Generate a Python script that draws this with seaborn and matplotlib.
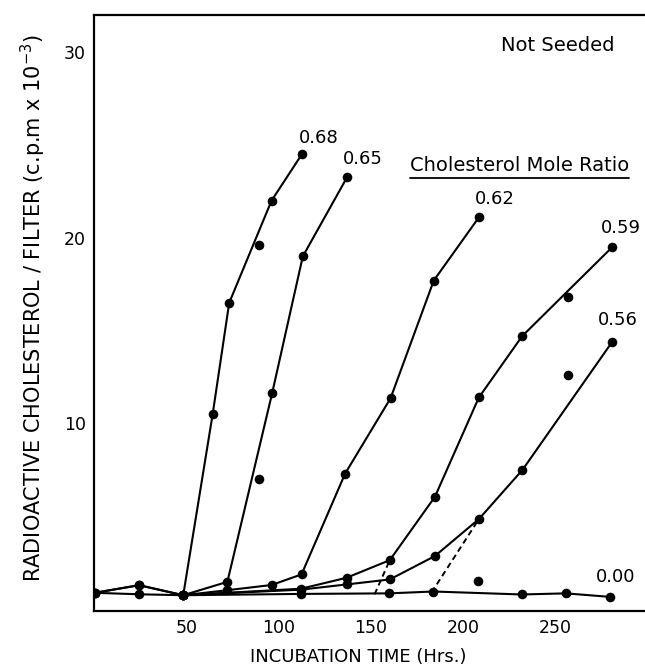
import matplotlib
matplotlib.use("Agg")
import matplotlib.pyplot as plt
import seaborn as sns
import pandas as pd

# ---------------- data ----------------
ratios = ["0.68", "0.65", "0.62", "0.59", "0.56", "0.00"]

time_068 = [0, 24, 48, 64, 73, 89, 96, 112.5]
cpm_068 = [0.88, 1.29, 0.75, 10.5, 16.5, 19.6, 22.0, 24.5]
online_068 = [1, 1, 1, 1, 1, 0, 1, 1]

time_065 = [0, 24, 48, 72, 89, 96.4, 113, 137]
cpm_065 = [0.88, 1.29, 0.75, 1.47, 7.0, 11.66, 19.0, 23.25]
online_065 = [1, 1, 1, 1, 0, 1, 1, 1]

time_062 = [48, 72, 96, 112.3, 136, 160.7, 184.2, 208.7]
cpm_062 = [0.75, 1.02, 1.3, 1.87, 7.3, 11.36, 17.7, 21.1]
online_062 = [1, 1, 1, 1, 1, 1, 1, 1]

time_059 = [48, 112, 136.8, 160.3, 184.8, 208.7, 232.2, 257.2, 281.2]
cpm_059 = [0.75, 1.1, 1.69, 2.64, 6.05, 11.4, 14.7, 16.8, 19.5]
online_059 = [1, 1, 1, 1, 1, 1, 1, 0, 1]

time_056 = [48, 112, 136.8, 160.3, 184.8, 208.7, 232.4, 256.9, 281.2]
cpm_056 = [0.75, 1.05, 1.33, 1.6, 2.86, 4.85, 7.5, 12.6, 14.4]
online_056 = [1, 1, 1, 1, 1, 1, 1, 0, 1]

time_000 = [0, 24, 48, 112, 160, 184, 208.3, 232, 256, 280]
cpm_000 = [0.88, 0.8, 0.75, 0.82, 0.85, 0.95, 1.53, 0.79, 0.85, 0.66]
online_000 = [1, 1, 1, 1, 1, 1, 0, 1, 1, 1]

# dashed extrapolations to the baseline
extrap_059_time = [152, 160.3]
extrap_059_cpm = [0.8, 2.64]
extrap_056_time = [183, 208.7]
extrap_056_cpm = [0.9, 4.85]

x_ticks = [50, 100, 150, 200, 250]
y_ticks = [10, 20, 30]

series = {
    "0.68": (time_068, cpm_068, online_068),
    "0.65": (time_065, cpm_065, online_065),
    "0.62": (time_062, cpm_062, online_062),
    "0.59": (time_059, cpm_059, online_059),
    "0.56": (time_056, cpm_056, online_056),
    "0.00": (time_000, cpm_000, online_000),
}

rows = []
for r in ratios:
    t, c, o = series[r]
    for ti, ci, oi in zip(t, c, o):
        rows.append({"ratio": r, "time": ti, "cpm": ci, "online": bool(oi)})
df = pd.DataFrame(rows)

ext = pd.DataFrame({
    "seg": ["a"] * len(extrap_059_time) + ["b"] * len(extrap_056_time),
    "time": extrap_059_time + extrap_056_time,
    "cpm": extrap_059_cpm + extrap_056_cpm,
})

# ---------------- drawing ----------------
sns.set_style("white")
plt.rcParams["font.family"] = ["DejaVu Sans"]
plt.rcParams["text.color"] = "black"
plt.rcParams["axes.labelcolor"] = "black"

W, H = 645, 670
fig = plt.figure(figsize=(W / 100, H / 100), dpi=100)
ax = fig.add_axes([94 / W, 1 - 611 / H, 551 / W, 596 / H])

for r in ratios:
    d = df[(df.ratio == r) & df.online]
    sns.lineplot(data=d, x="time", y="cpm", color="black", lw=1.5,
                 estimator=None, sort=False, ax=ax, legend=False)

for seg in ["a", "b"]:
    d = ext[ext.seg == seg]
    sns.lineplot(data=d, x="time", y="cpm", color="black", lw=1.4,
                 linestyle=(0, (3, 2)), estimator=None, sort=False,
                 ax=ax, legend=False)

sns.scatterplot(data=df, x="time", y="cpm", color="black", s=48,
                linewidth=0, ax=ax, legend=False, zorder=3)

# end labels
offsets = {"0.68": (-2, 8), "0.65": (-3, 10), "0.62": (-3, 9.5),
           "0.59": (-8, 10), "0.56": (-10, 12), "0.00": (-10, 11)}
for r in ratios:
    t, c, o = series[r]
    ax.annotate(r, xy=(t[-1], c[-1]), xytext=offsets[r],
                textcoords="offset points", ha="left", va="baseline",
                fontsize=13, color="black")

ax.text(0.738, 0.940, "Not Seeded", transform=ax.transAxes,
        fontsize=14, ha="left", va="baseline", color="black")
title = ax.text(0.5735, 0.7388, "Cholesterol Mole Ratio",
                transform=ax.transAxes, fontsize=14, ha="left",
                va="baseline", color="black")

ax.set_xlim(-0.5, 299)
ax.set_ylim(-0.1, 32.0)
ax.set_xticks(x_ticks)
ax.set_yticks(y_ticks)
ax.tick_params(direction="in", length=5, width=1.2, labelsize=12.5,
               colors="black", pad=6)

for s in ["left", "bottom", "top"]:
    ax.spines[s].set_linewidth(1.6)
    ax.spines[s].set_color("black")
ax.spines["right"].set_visible(False)

ax.set_xlabel("INCUBATION TIME (Hrs.)", fontsize=13, color="black")
ax.set_ylabel(r"RADIOACTIVE CHOLESTEROL / FILTER (c.p.m x 10$^{-3}$)",
              fontsize=15, color="black")
ax.xaxis.set_label_coords(0.479, -0.078)
ax.xaxis.label.set_va("center")
ax.yaxis.set_label_coords(-0.11, 0.508)
ax.yaxis.label.set_va("center")

# underline for the legend title
fig.canvas.draw()
bb = title.get_window_extent().transformed(ax.transAxes.inverted())
ax.plot([bb.x0, bb.x1], [bb.y0 - 0.006, bb.y0 - 0.006], color="black",
        lw=1.3, transform=ax.transAxes, clip_on=False)

fig.savefig("out.png", dpi=100)
